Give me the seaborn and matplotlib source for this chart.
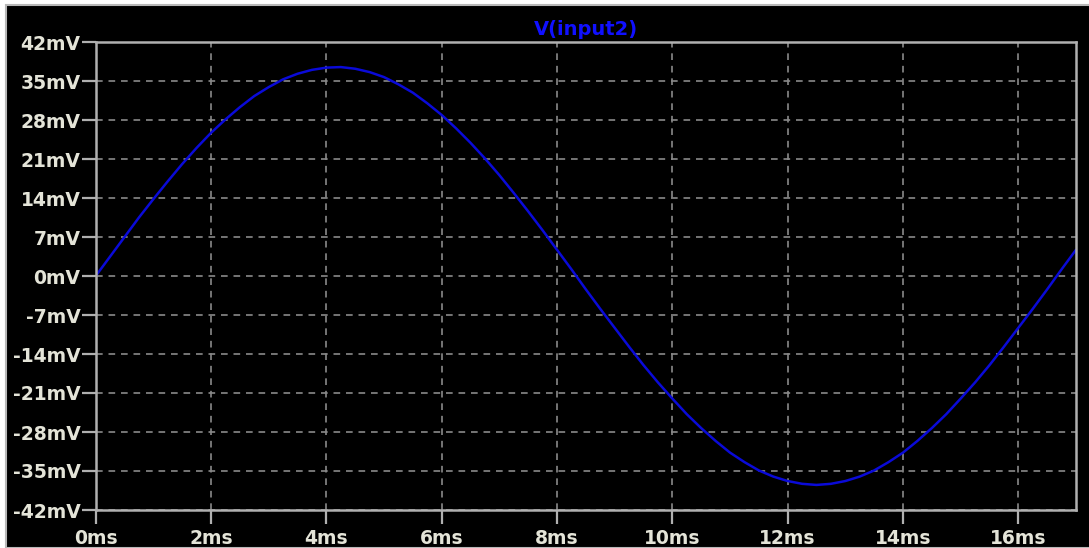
import matplotlib
matplotlib.use("Agg")
import matplotlib.pyplot as plt
import matplotlib.patches as mpatches
import seaborn as sns
import pandas as pd

time_ms = [0.0, 0.25, 0.5, 0.75, 1.0, 1.25, 1.5, 1.75, 2.0, 2.25, 2.5, 2.75,
           3.0, 3.25, 3.5, 3.75, 4.0, 4.25, 4.5, 4.75, 5.0, 5.25, 5.5, 5.75,
           6.0, 6.25, 6.5, 6.75, 7.0, 7.25, 7.5, 7.75, 8.0, 8.25, 8.5, 8.75,
           9.0, 9.25, 9.5, 9.75, 10.0, 10.25, 10.5, 10.75, 11.0, 11.25, 11.5, 11.75,
           12.0, 12.25, 12.5, 12.75, 13.0, 13.25, 13.5, 13.75, 14.0, 14.25, 14.5, 14.75,
           15.0, 15.25, 15.5, 15.75, 16.0, 16.25, 16.5, 16.75, 17.0]
voltage_mv = [0.0, 3.5, 7.0, 10.5, 13.8, 17.0, 20.1, 23.0, 25.7, 28.1, 30.3, 32.3,
              33.9, 35.3, 36.3, 37.0, 37.4, 37.5, 37.2, 36.6, 35.7, 34.4, 32.9, 31.0,
              28.9, 26.5, 23.9, 21.1, 18.1, 14.9, 11.6, 8.2, 4.7, 1.2, -2.4, -5.9,
              -9.3, -12.7, -16.0, -19.1, -22.0, -24.8, -27.3, -29.6, -31.7, -33.4, -34.9, -36.0,
              -36.8, -37.3, -37.5, -37.3, -36.8, -36.0, -34.9, -33.4, -31.7, -29.6, -27.3, -24.8,
              -22.0, -19.1, -16.0, -12.7, -9.3, -5.9, -2.4, 1.2, 4.7]
x_ticks = [0, 2, 4, 6, 8, 10, 12, 14, 16]
x_labels = ["0ms", "2ms", "4ms", "6ms", "8ms", "10ms", "12ms", "14ms", "16ms"]
y_ticks = [42, 35, 28, 21, 14, 7, 0, -7, -14, -21, -28, -35, -42]
y_labels = ["42mV", "35mV", "28mV", "21mV", "14mV", "7mV", "0mV", "-7mV",
            "-14mV", "-21mV", "-28mV", "-35mV", "-42mV"]
series_name = "V(input2)"

df = pd.DataFrame({"t": time_ms, "v": voltage_mv})

sns.set_theme(style="dark")
plt.rcParams["font.family"] = ["DejaVu Sans"]

W, H = 1089, 548
fig = plt.figure(figsize=(W / 100, H / 100), dpi=100)
fig.patch.set_facecolor("white")
# black panel with light grey frame
fig.patches.append(mpatches.Rectangle((6 / W, 0), 1.0, 1 - 5 / H, transform=fig.transFigure,
                                      facecolor="black", edgecolor="#b8b8b8", linewidth=1.5,
                                      zorder=-10))

ax = fig.add_axes([95.7 / W, 1 - 510 / H, (1076 - 95.7) / W, (510 - 42) / H])
ax.set_zorder(5)
ax.set_facecolor("black")

sns.lineplot(data=df, x="t", y="v", ax=ax, color="#0a0ad8", linewidth=1.8)

ax.set_xlim(0, 17)
ax.set_ylim(-42, 42)
ax.set_xticks(x_ticks)
ax.set_xticklabels(x_labels)
ax.set_yticks(y_ticks)
ax.set_yticklabels(y_labels)
ax.set_xlabel("")
ax.set_ylabel("")

grid_col = "#8a8a8a"
ax.grid(True, color=grid_col, linestyle=(0, (4, 3.5)), linewidth=1.2)
for s in ax.spines.values():
    s.set_color("#b0b0b0")
    s.set_linewidth(1.8)
    s.set_visible(True)

ax.tick_params(axis="both", which="both", direction="out", length=10, width=1.6,
               color="#b0b0b0", labelcolor="#e4e4d8", labelsize=13.5,
               bottom=True, left=True)
ax.tick_params(axis="y", pad=1)
ax.tick_params(axis="x", pad=4)
for lab in ax.get_xticklabels() + ax.get_yticklabels():
    lab.set_fontweight("bold")

ax.set_title(series_name, color="#1010ff", fontweight="bold", fontsize=14, pad=5)

fig.savefig("out.png", dpi=100, facecolor=fig.get_facecolor())
